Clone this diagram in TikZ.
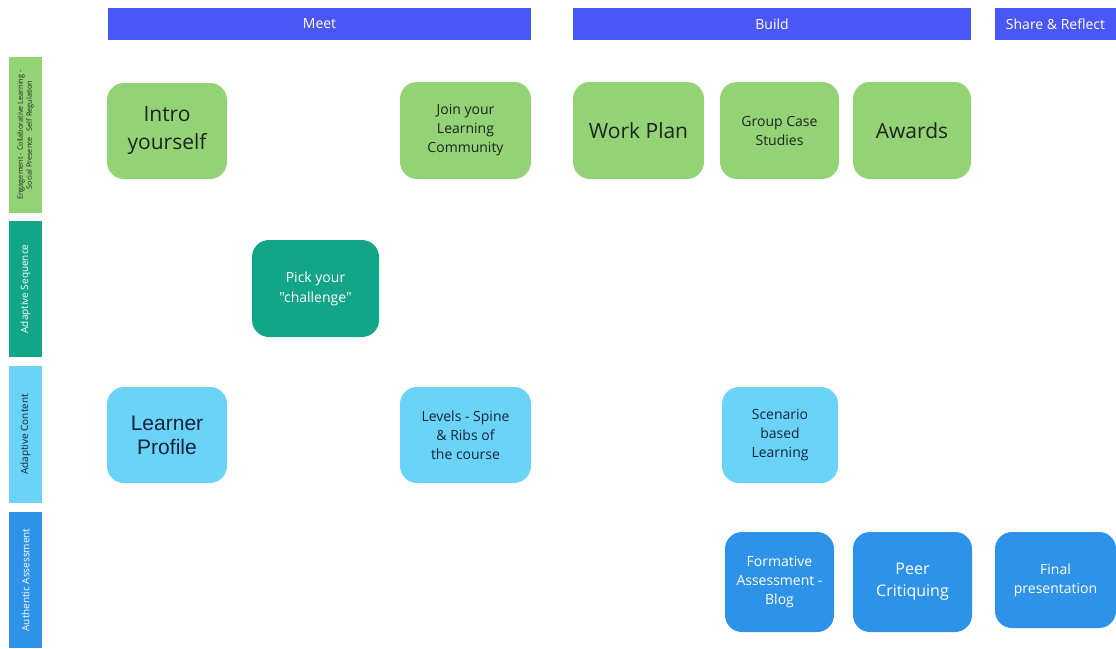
\documentclass[tikz,border=0pt]{standalone}
\usepackage{fontspec}
\setmainfont{Open Sans}[Ligatures=TeXOff]
\newfontfamily\arialfont{Liberation Sans}
\definecolor{headblue}{RGB}{74,86,246}
\definecolor{engreen}{RGB}{147,210,117}
\definecolor{seqteal}{RGB}{18,165,135}
\definecolor{contblue}{RGB}{108,211,248}
\definecolor{assblue}{RGB}{46,147,232}
\definecolor{darktext}{RGB}{30,36,30}
\definecolor{navytext}{RGB}{20,36,60}
\begin{document}
\begin{tikzpicture}[x=1pt,y=-1pt,
  header/.style={fill=headblue, text=white, minimum height=32pt, inner sep=0pt,
    font=\fontsize{14}{17}\selectfont},
  lane/.style={rotate=90, minimum height=33pt, inner sep=0pt, align=center},
  card/.style={rounded corners=17pt, inner sep=0pt, align=center,
    font=\fontsize{14}{19}\selectfont},
  greencard/.style={card, fill=engreen, text=darktext},
  tealcard/.style={card, fill=seqteal, text=white},
  lightcard/.style={card, fill=contblue, text=navytext},
  bluecard/.style={card, fill=assblue, text=white}]
\useasboundingbox (0,0) rectangle (1116,648);

% phases
\node[header, minimum width=423pt] (meet) at (319.5,24) {Meet};
\node[header, minimum width=398pt] (build) at (772,24) {Build};
\node[header, minimum width=121pt] (share) at (1055.5,24) {Share \& Reflect};

% lanes
\node[lane, fill=engreen, text=darktext, minimum width=156pt,
  font=\fontsize{7.3}{9}\selectfont] (engage) at (25.5,135)
  {Engagement - Collaborative Learning -\\Social Presence \ \ Self Regulation};
\node[lane, fill=seqteal, text=white, minimum width=136pt,
  font=\fontsize{10}{12}\selectfont] (sequence) at (25.5,289) {Adaptive Sequence};
\node[lane, fill=contblue, text=navytext, minimum width=137pt,
  font=\fontsize{10}{12}\selectfont] (content) at (25.5,434.5) {Adaptive Content};
\node[lane, fill=assblue, text=white, minimum width=136pt,
  font=\fontsize{10}{12}\selectfont] (assess) at (25.5,580) {Authentic Assessment};

% engagement
\node[greencard, minimum width=120pt, minimum height=96pt,
  font=\fontsize{21}{28}\selectfont] (intro) at (167,131) {Intro\\yourself};
\node[greencard, minimum width=131pt, minimum height=97pt] (join) at (465.5,130.5)
  {Join your\\Learning\\Community};
\node[greencard, minimum width=131pt, minimum height=97pt,
  font=\fontsize{21}{28}\selectfont] (workplan) at (638.5,130.5) {Work Plan};
\node[greencard, minimum width=119pt, minimum height=97pt] (groupcase) at (779.5,130.5)
  {Group Case\\Studies};
\node[greencard, minimum width=118pt, minimum height=97pt,
  font=\fontsize{21}{28}\selectfont] (awards) at (912,130.5) {Awards};

% sequence
\node[tealcard, minimum width=127pt, minimum height=97pt,
  font=\fontsize{14}{20}\selectfont] (pick) at (315.5,288.5) {Pick your\\"challenge"};

% content
\node[lightcard, minimum width=120pt, minimum height=96pt,
  font=\arialfont\fontsize{21}{24}\selectfont] (learner) at (167,435) {Learner\\Profile};
\node[lightcard, minimum width=131pt, minimum height=96pt] (levels) at (465.5,435)
  {Levels - Spine\\\& Ribs of\\the course};
\node[lightcard, minimum width=116pt, minimum height=96pt] (scenario) at (780,435)
  {Scenario\\based\\Learning};

% assessment
\node[bluecard, minimum width=109pt, minimum height=100pt] (formative) at (779.5,582)
  {Formative\\Assessment -\\Blog};
\node[bluecard, minimum width=119pt, minimum height=100pt,
  font=\fontsize{16}{22}\selectfont] (peer) at (912.5,582) {Peer\\Critiquing};
\node[bluecard, minimum width=121pt, minimum height=96pt] (final) at (1055.5,580)
  {Final\\presentation};
\end{tikzpicture}
\end{document}
